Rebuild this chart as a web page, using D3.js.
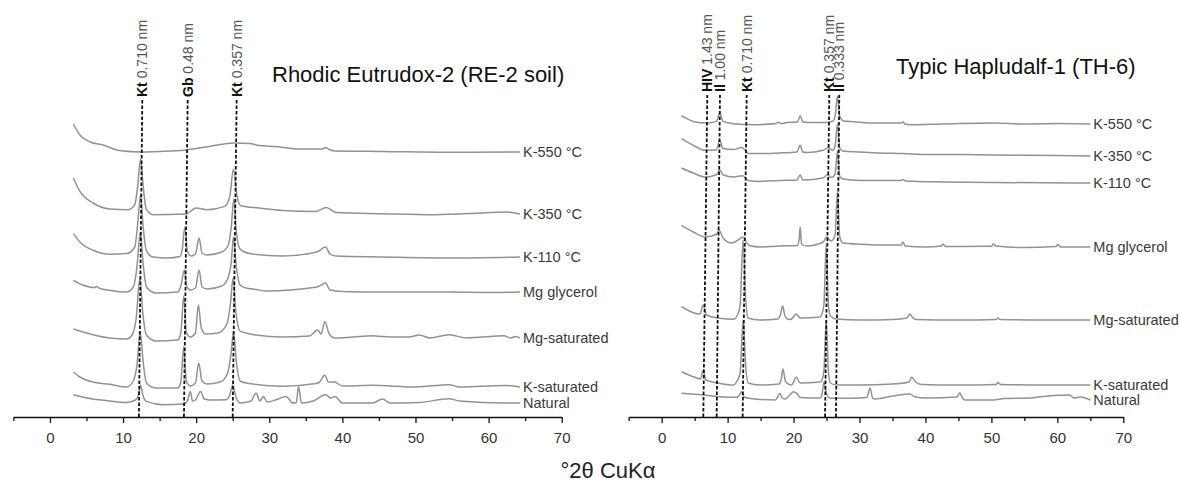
<!DOCTYPE html>
<html>
<head>
<meta charset="utf-8">
<script src="https://cdn.jsdelivr.net/npm/d3@7"></script>
<style>
  html, body { margin: 0; padding: 0; background: #fff; }
  svg { display: block; font-family: "Liberation Sans", Arial, sans-serif; }
</style>
</head>
<body>
<svg id="chart" width="1180" height="488"></svg>
<script>
// ---------------- DATA ----------------
const xTicks = [0, 10, 20, 30, 40, 50, 60, 70];
const xMinorTicks = [-5, 5, 15, 25, 35, 45, 55, 65];
const xTitle = "°2θ CuKα";

// Left panel: Rhodic Eutrudox-2
const leftTitle = "Rhodic Eutrudox-2 (RE-2 soil)";
const leftLabels = ["K-550 °C", "K-350 °C", "K-110 °C", "Mg glycerol", "Mg-saturated", "K-saturated", "Natural"];
const leftOffsets = [265, 203, 160, 125, 79, 30, 14];
const leftK550 = [[3.2,28],[4.1,17],[5.5,10],[7.3,7],[9.5,1.5],[12.5,0],[15,0.5],[18.6,2],[21.8,5.5],[25.2,9],[27.3,8.5],[28.6,6.5],[30.9,5.5],[34.1,3],[37.2,3],[37.7,4.5],[38.2,2.5],[39.1,1],[45.5,0.5],[54.6,-0.3],[64.3,0]];
const leftK350 = [[3.2,36],[4.1,22.6],[5.9,11],[8.2,5],[10.7,4.3],[11.6,9.3],[12.0,27.6],[12.4,55],[12.75,27.6],[13.2,4.3],[14.1,-0.7],[18.6,0],[20.0,6],[21.4,4.3],[23.9,7.6],[24.6,17.6],[25.1,45],[25.6,17.6],[26.1,8.3],[28.6,6],[31.8,3.6],[36.4,2.6],[37.8,6.6],[39.1,1.6],[45.5,0.3],[52.7,-0.7],[59.1,1],[62.3,2],[64.3,0]];
const leftK110 = [[3.2,23.4],[4.1,15],[5.9,6.7],[8.2,2.7],[10.5,3.4],[11.6,10],[12.0,33],[12.4,62],[12.75,30],[13.2,6],[14.1,0],[16,-1],[17.8,0.5],[18.1,8],[18.45,30],[18.8,6],[19.3,1],[19.9,3],[20.4,19],[20.8,4],[21.5,2],[23.5,5],[24.4,12],[24.8,30],[25.15,58],[25.5,25],[26.0,8],[27.3,3.4],[31.8,1],[36.5,5],[37.7,10],[38.3,3],[39.1,1],[45.5,0],[54.6,-1],[64.3,0]];
const leftMgGly = [[3.2,11.7],[4.5,7],[6.1,4.4],[6.4,5.5],[6.8,3.5],[8.2,1.7],[10.5,0],[11.4,5],[11.9,25],[12.35,60],[12.75,28],[13.2,5],[14.5,-1],[17.5,0],[17.9,6],[18.4,22],[18.7,6],[19.2,2],[19.9,4],[20.4,22],[20.8,5],[21.5,3],[23.5,6],[24.3,13],[24.8,30],[25.1,55],[25.5,25],[26.0,7],[26.8,4],[28.2,2.5],[29.5,1],[36.5,5],[37.7,9],[38.3,2],[40,0.5],[45.5,0],[54.6,0],[60,-0.5],[64.3,0]];
const leftMgSat = [[3.2,9],[5.9,3.3],[8.2,0],[10.5,-1],[11.3,4],[11.8,20],[12.3,60],[12.7,25],[13.2,3],[14.5,-3],[17.5,-2],[17.9,5],[18.3,42],[18.65,6],[19.2,1],[19.9,5],[20.3,33],[20.7,10],[21.3,4],[23,5],[24.2,14],[24.7,35],[25.05,60],[25.45,25],[26.0,7],[26.8,5],[28.2,3],[31.8,1],[35.5,2],[36.6,8],[37.1,4],[37.6,16.6],[38.2,4],[39,0],[41.4,1],[44.1,2.3],[45.5,1.5],[47.5,1],[49.1,1],[50.5,3],[52,0],[54.6,3.3],[57,0],[62.1,2.3],[63,0],[63.7,1.5],[64.3,0]];
const leftKSat = [[3.2,15],[4.1,10],[5.9,5],[8.2,2.7],[10.5,0],[11.4,6],[11.9,22],[12.35,55],[12.75,25],[13.2,4],[14.5,-1],[17.5,-1],[17.9,5],[18.3,40],[18.65,6],[19.2,1],[19.9,4],[20.35,24],[20.8,6],[21.5,3],[23.3,5],[24.3,14],[24.8,35],[25.1,55],[25.5,25],[26.0,6],[27.3,3.4],[31.8,0.7],[36.4,3.4],[36.8,4.5],[37.6,11.7],[38.1,5],[38.9,5],[40,1],[44.1,1.7],[50,0],[54.6,2.3],[56,0],[62.3,1.5],[64.3,0]];
const leftNatural = [[3.2,8.3],[5.9,4],[8.2,2],[10.5,0.6],[11.7,3],[12.1,8],[12.4,18],[12.7,8],[13.2,1.6],[15.5,-1.7],[18.3,-1],[18.8,2],[19.2,11.6],[19.5,2],[19.9,3],[20.6,11.6],[21.1,4],[22,3],[24.1,3.3],[24.6,8],[25.0,18],[25.4,7],[26.0,0],[27.5,2],[28.2,10],[28.7,2],[29.2,6.6],[29.7,1],[31.2,4],[32.3,6.6],[33.2,0],[33.7,0.5],[34.0,16.6],[34.4,0],[36,2],[37.7,8.3],[38.4,5],[39,6.6],[40,0],[44.1,0],[45.5,4],[46.5,0],[50.5,0.5],[54.6,4.3],[56,2],[62.3,0],[64.3,0]];
const leftRefBold = ["Kt", "Gb", "Kt"];
const leftRefText = [" 0.710 nm", " 0.48 nm", " 0.357 nm"];
const leftRefAt = [12.17, 18.33, 24.99];
const leftRefTopAt = [12.63, 18.84, 25.54];

// Right panel: Typic Hapludalf-1
const rightTitle = "Typic Hapludalf-1 (TH-6)";
const rightLabels = ["K-550 °C", "K-350 °C", "K-110 °C", "Mg glycerol", "Mg-saturated", "K-saturated", "Natural"];
const rightOffsets = [293, 261, 234, 170, 97, 32, 17];
const rightK550 = [[3.0,8.3],[4.8,2.6],[6.9,1],[8.3,2.6],[8.8,11],[9.3,2.6],[10.9,0.3],[13.9,-0.7],[17.3,0.5],[17.7,1.8],[18.2,0.3],[19.0,1.5],[20.6,2],[21.0,8.3],[21.4,2],[22.5,1.5],[25,1.6],[26.0,3],[26.35,10],[26.65,28],[27.0,8],[27.6,3],[28.6,2.6],[31.6,1],[36.3,1],[36.6,2],[36.9,0],[37.7,-0.7],[42.7,0],[50.3,1],[55,0],[60.1,0.5],[65,0]];
const rightK350 = [[3.0,17.4],[4.8,10.7],[6.6,5.7],[8.3,6],[8.8,15.7],[9.3,7.4],[10.9,6.4],[12.1,8.4],[12.5,7],[13.1,2.4],[14.9,2.4],[17.9,3],[20.5,4],[21.0,10.7],[21.4,4],[22,3.5],[24.5,5.7],[25.3,8.4],[25.9,5.5],[26.3,10],[26.65,32],[27.0,8],[27.5,5],[30.1,4],[33,3],[36.6,2.4],[40,1.5],[42.7,1.4],[45.7,1.5],[50.3,1],[60.1,0.5],[65,0]];
const rightK110 = [[3.0,15],[4.8,10],[6.6,6],[8.3,8.3],[8.8,13.3],[9.3,8.3],[10.9,6],[12.3,7.3],[13.1,2.6],[14.9,1.6],[17.9,2.6],[20.5,3],[21.0,8],[21.4,3],[24.5,5],[25.1,8.3],[25.8,5.5],[26.3,9],[26.65,32],[27.0,7],[27.5,4],[30.1,2.6],[36.3,2.5],[36.6,3.5],[37,2],[42.7,1],[50.3,0.5],[65,0]];
const rightMgGly = [[3.0,21.7],[4.8,15],[6.6,10],[8.3,12.7],[8.7,16.7],[9.3,9],[10.6,4],[11.6,7],[12.3,10],[12.8,5],[13.3,1.5],[14.9,0],[17.9,1],[20.6,1.5],[20.85,8],[21.0,20],[21.2,3],[22,1],[24.5,5],[25.0,10],[25.7,6],[26.3,12],[26.65,55],[27.0,10],[27.5,4],[30.1,2.7],[33,2],[36.3,2],[36.6,5],[36.9,1],[40.1,0],[42.4,1],[42.7,3],[43,0.5],[50,0.8],[50.3,3],[50.7,1],[54.9,-0.5],[59.8,0.5],[60.1,2.5],[60.5,0],[65,0]];
const rightMgSat = [[3.0,13.3],[4.8,7.3],[5.8,6],[6.3,15],[6.8,5],[8.8,1.7],[10.9,0.7],[11.5,5],[11.9,15],[12.35,80],[12.75,20],[13.1,2],[14.9,0],[17.6,1],[18.0,5],[18.35,14],[18.7,4],[19.3,0.5],[19.7,1],[20.4,6],[21.0,2],[24,3],[24.3,6],[24.6,15],[24.95,75],[25.3,14],[25.6,4],[26.5,1],[30.1,0],[35.1,0.5],[37.2,2],[37.6,6],[38.1,2],[38.6,0.5],[45,0],[50.7,0.5],[51,2],[51.3,0.5],[58,0],[65,0]];
const rightKSat = [[3.0,13.3],[4.8,8.3],[5.9,6],[6.3,15],[6.7,5],[8.8,1.7],[10.9,0],[11.5,5],[11.9,12],[12.35,65],[12.75,18],[13.1,2],[14.9,0],[17.8,1],[18.1,5],[18.4,16],[18.75,4],[19.2,1],[19.7,0],[20.4,7.7],[21.0,2],[24,3],[24.3,5],[24.6,14],[24.95,65],[25.3,12],[25.6,2],[26.5,0],[30.1,0],[35,1],[37.5,3],[37.9,7.7],[38.5,3],[39.4,0.5],[45,0],[50.7,0.5],[51,2.5],[51.4,0.5],[58,0],[65,0]];
const rightNatural = [[3.0,6.7],[6.3,5],[8.8,3.3],[11.4,2.7],[11.8,5],[12.1,8.3],[12.5,3],[13.5,1.5],[17.2,0],[17.6,3],[17.9,6.7],[18.3,2],[18.7,1],[19.4,5],[20.0,8.3],[20.6,6],[21,2.5],[24,2],[24.3,5],[24.6,18],[25.0,6],[25.6,1.7],[28.6,1.7],[31.1,2.5],[31.6,12],[32.0,2],[32.3,1],[35.1,4],[37.6,6],[38.5,3],[40.1,2],[44.8,3],[45.2,7.3],[45.6,2],[46,0],[50.3,0],[52,1.5],[55.9,2],[57,3],[61.9,5],[62.5,2],[63.5,3],[65,0]];
const rightRefBold = ["HIV", "Il", "Kt", "Kt", "Il"];
const rightRefText = [" 1.43 nm", " 1.00 nm", " 0.710 nm", " 0.357 nm", " 0.333 nm"];
const rightRefAt = [6.31, 8.34, 12.28, 24.77, 26.43];
const rightRefTopAt = [6.92, 8.84, 12.89, 25.42, 26.93];

const leftSeries = [leftK550, leftK350, leftK110, leftMgGly, leftMgSat, leftKSat, leftNatural];
const rightSeries = [rightK550, rightK350, rightK110, rightMgGly, rightMgSat, rightKSat, rightNatural];

// ---------------- DRAW ----------------
const svg = d3.select("#chart");
const axisY = 417;
const y = d3.scaleLinear().domain([0, 400]).range([axisY, axisY - 400]);

function panel(cfg) {
  const x = d3.scaleLinear().domain([-5, 70]).range(cfg.range);
  const g = svg.append("g");

  // traces
  const line = d3.line().x(d => x(d[0])).y(d => y(d[1])).curve(d3.curveMonotoneX);
  cfg.series.forEach((s, i) => {
    const pts = s.map(d => [d[0], d[1] + cfg.offsets[i]]);
    g.append("path")
      .attr("d", line(pts))
      .attr("fill", "none")
      .attr("stroke", "#929292")
      .attr("stroke-width", 1.5)
      .attr("stroke-linejoin", "round");
    const last = pts[pts.length - 1];
    g.append("text")
      .attr("x", x(last[0]) + 3)
      .attr("y", y(last[1]))
      .attr("dy", "0.35em")
      .attr("font-size", 14.5)
      .attr("fill", "#3a3a3a")
      .text(cfg.labels[i]);
  });

  // reference dashed lines + labels
  cfg.refAt.forEach((v, i) => {
    const xt = x(cfg.refTopAt[i]);
    g.append("line")
      .attr("x1", x(v)).attr("y1", axisY)
      .attr("x2", xt).attr("y2", cfg.refTopY)
      .attr("stroke", "#111")
      .attr("stroke-width", 1.8)
      .attr("stroke-dasharray", "3.5,2");
    const t = g.append("text")
      .attr("transform", `translate(${xt},${cfg.refTopY - 3}) rotate(-90)`)
      .attr("dy", "0.35em")
      .attr("font-size", 14);
    t.append("tspan").attr("font-weight", "bold").attr("fill", "#111").text(cfg.refBold[i]);
    t.append("tspan").attr("fill", "#555").text(cfg.refText[i]);
  });

  // axis
  const ax = g.append("g").attr("transform", `translate(0,${axisY})`)
    .call(d3.axisBottom(x).tickValues(xTicks).tickFormat(d3.format("d")).tickSize(6).tickSizeOuter(0).tickPadding(9));
  ax.select(".domain").attr("stroke", "#111").attr("stroke-width", 1.5);
  ax.selectAll(".tick line").attr("stroke", "#111").attr("stroke-width", 1.3);
  ax.selectAll(".tick text").attr("font-size", 15).attr("fill", "#333").attr("font-family", "Liberation Sans, Arial, sans-serif");
  const axm = g.append("g").attr("transform", `translate(0,${axisY})`)
    .call(d3.axisBottom(x).tickValues(xMinorTicks).tickFormat("").tickSize(4).tickSizeOuter(0));
  axm.select(".domain").remove();
  axm.selectAll(".tick line").attr("stroke", "#111").attr("stroke-width", 1.3);

  // title
  g.append("text")
    .attr("x", cfg.titleX).attr("y", cfg.titleY)
    .attr("font-size", 22)
    .attr("fill", "#111")
    .text(cfg.title);
}

panel({
  range: [13.4, 561.7], series: leftSeries, offsets: leftOffsets, labels: leftLabels,
  refAt: leftRefAt, refTopAt: leftRefTopAt, refBold: leftRefBold, refText: leftRefText,
  refTopY: 100, title: leftTitle, titleX: 272, titleY: 82
});
panel({
  range: [628.7, 1123.3], series: rightSeries, offsets: rightOffsets, labels: rightLabels,
  refAt: rightRefAt, refTopAt: rightRefTopAt, refBold: rightRefBold, refText: rightRefText,
  refTopY: 95, title: rightTitle, titleX: 896, titleY: 74
});

svg.append("text")
  .attr("x", 608).attr("y", 478)
  .attr("text-anchor", "middle")
  .attr("font-size", 22)
  .attr("fill", "#222")
  .text(xTitle);
</script>
</body>
</html>
